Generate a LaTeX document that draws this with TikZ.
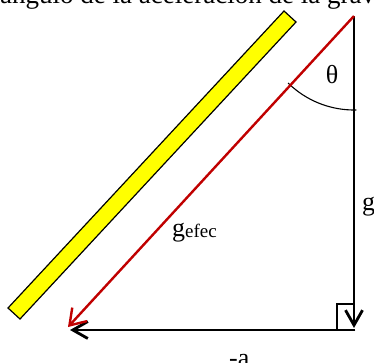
\documentclass[tikz,border=0pt]{standalone}
\usepackage{fontspec}
\setmainfont{Liberation Serif}
\usetikzlibrary{arrows.meta}
\definecolor{vecred}{HTML}{C00000}
\definecolor{baryellow}{HTML}{FFFF00}
\tikzset{
  lbl/.style={inner sep=0pt, font=\fontsize{26}{26}\selectfont},
  blackvec/.style={draw=black, line width=2.8pt, -{Straight Barb[length=15pt, width=17pt, line width=2.8pt]}},
  redvec/.style={draw=vecred, line width=2.4pt, -{Straight Barb[length=15pt, width=20pt, line width=2.4pt]}},
  bar/.style={draw=black, line width=1.2pt, fill=baryellow},
  thin/.style={draw=black, line width=1.1pt}
}
\begin{document}
\begin{tikzpicture}[x=1pt,y=-1pt]
\useasboundingbox (0,0) rectangle (374,362);
\clip (0,0) rectangle (374,362);
% yellow bar
\draw[bar] (284,11) -- (296,22) -- (20,319) -- (8,308) -- cycle;
% points
\coordinate (O) at (354,16);
\coordinate (R) at (68,327);
\coordinate (V) at (354,328);
\coordinate (C) at (355.4,330);
\coordinate (H) at (70,330);
% right angle mark
\draw[thin] (353,304) -- (337,304) -- (337,330);
% angle arc
\draw[thin] (O) ++(134.5:94) arc[start angle=134.5, end angle=88.5, radius=94];
% vectors
\draw[blackvec] (C) -- (H);
\draw[blackvec] (O) -- (V);
\draw[redvec] (O) -- (R);
% labels
\node[lbl, font=\fontsize{27}{27}\selectfont, anchor=base west] (title) at (0,3) {ángulo de la aceleración de la grav};
\node[lbl] (theta) at (332,75) {θ};
\node[lbl, anchor=base west] (g) at (362,210) {g};
\node[lbl, anchor=base west] (gefec) at (172,236) {g{\fontsize{19}{19}\selectfont\raisebox{-1.5pt}{efec}}};
\node[lbl, anchor=base west] (ma) at (229,366) {-a};
\end{tikzpicture}
\end{document}
